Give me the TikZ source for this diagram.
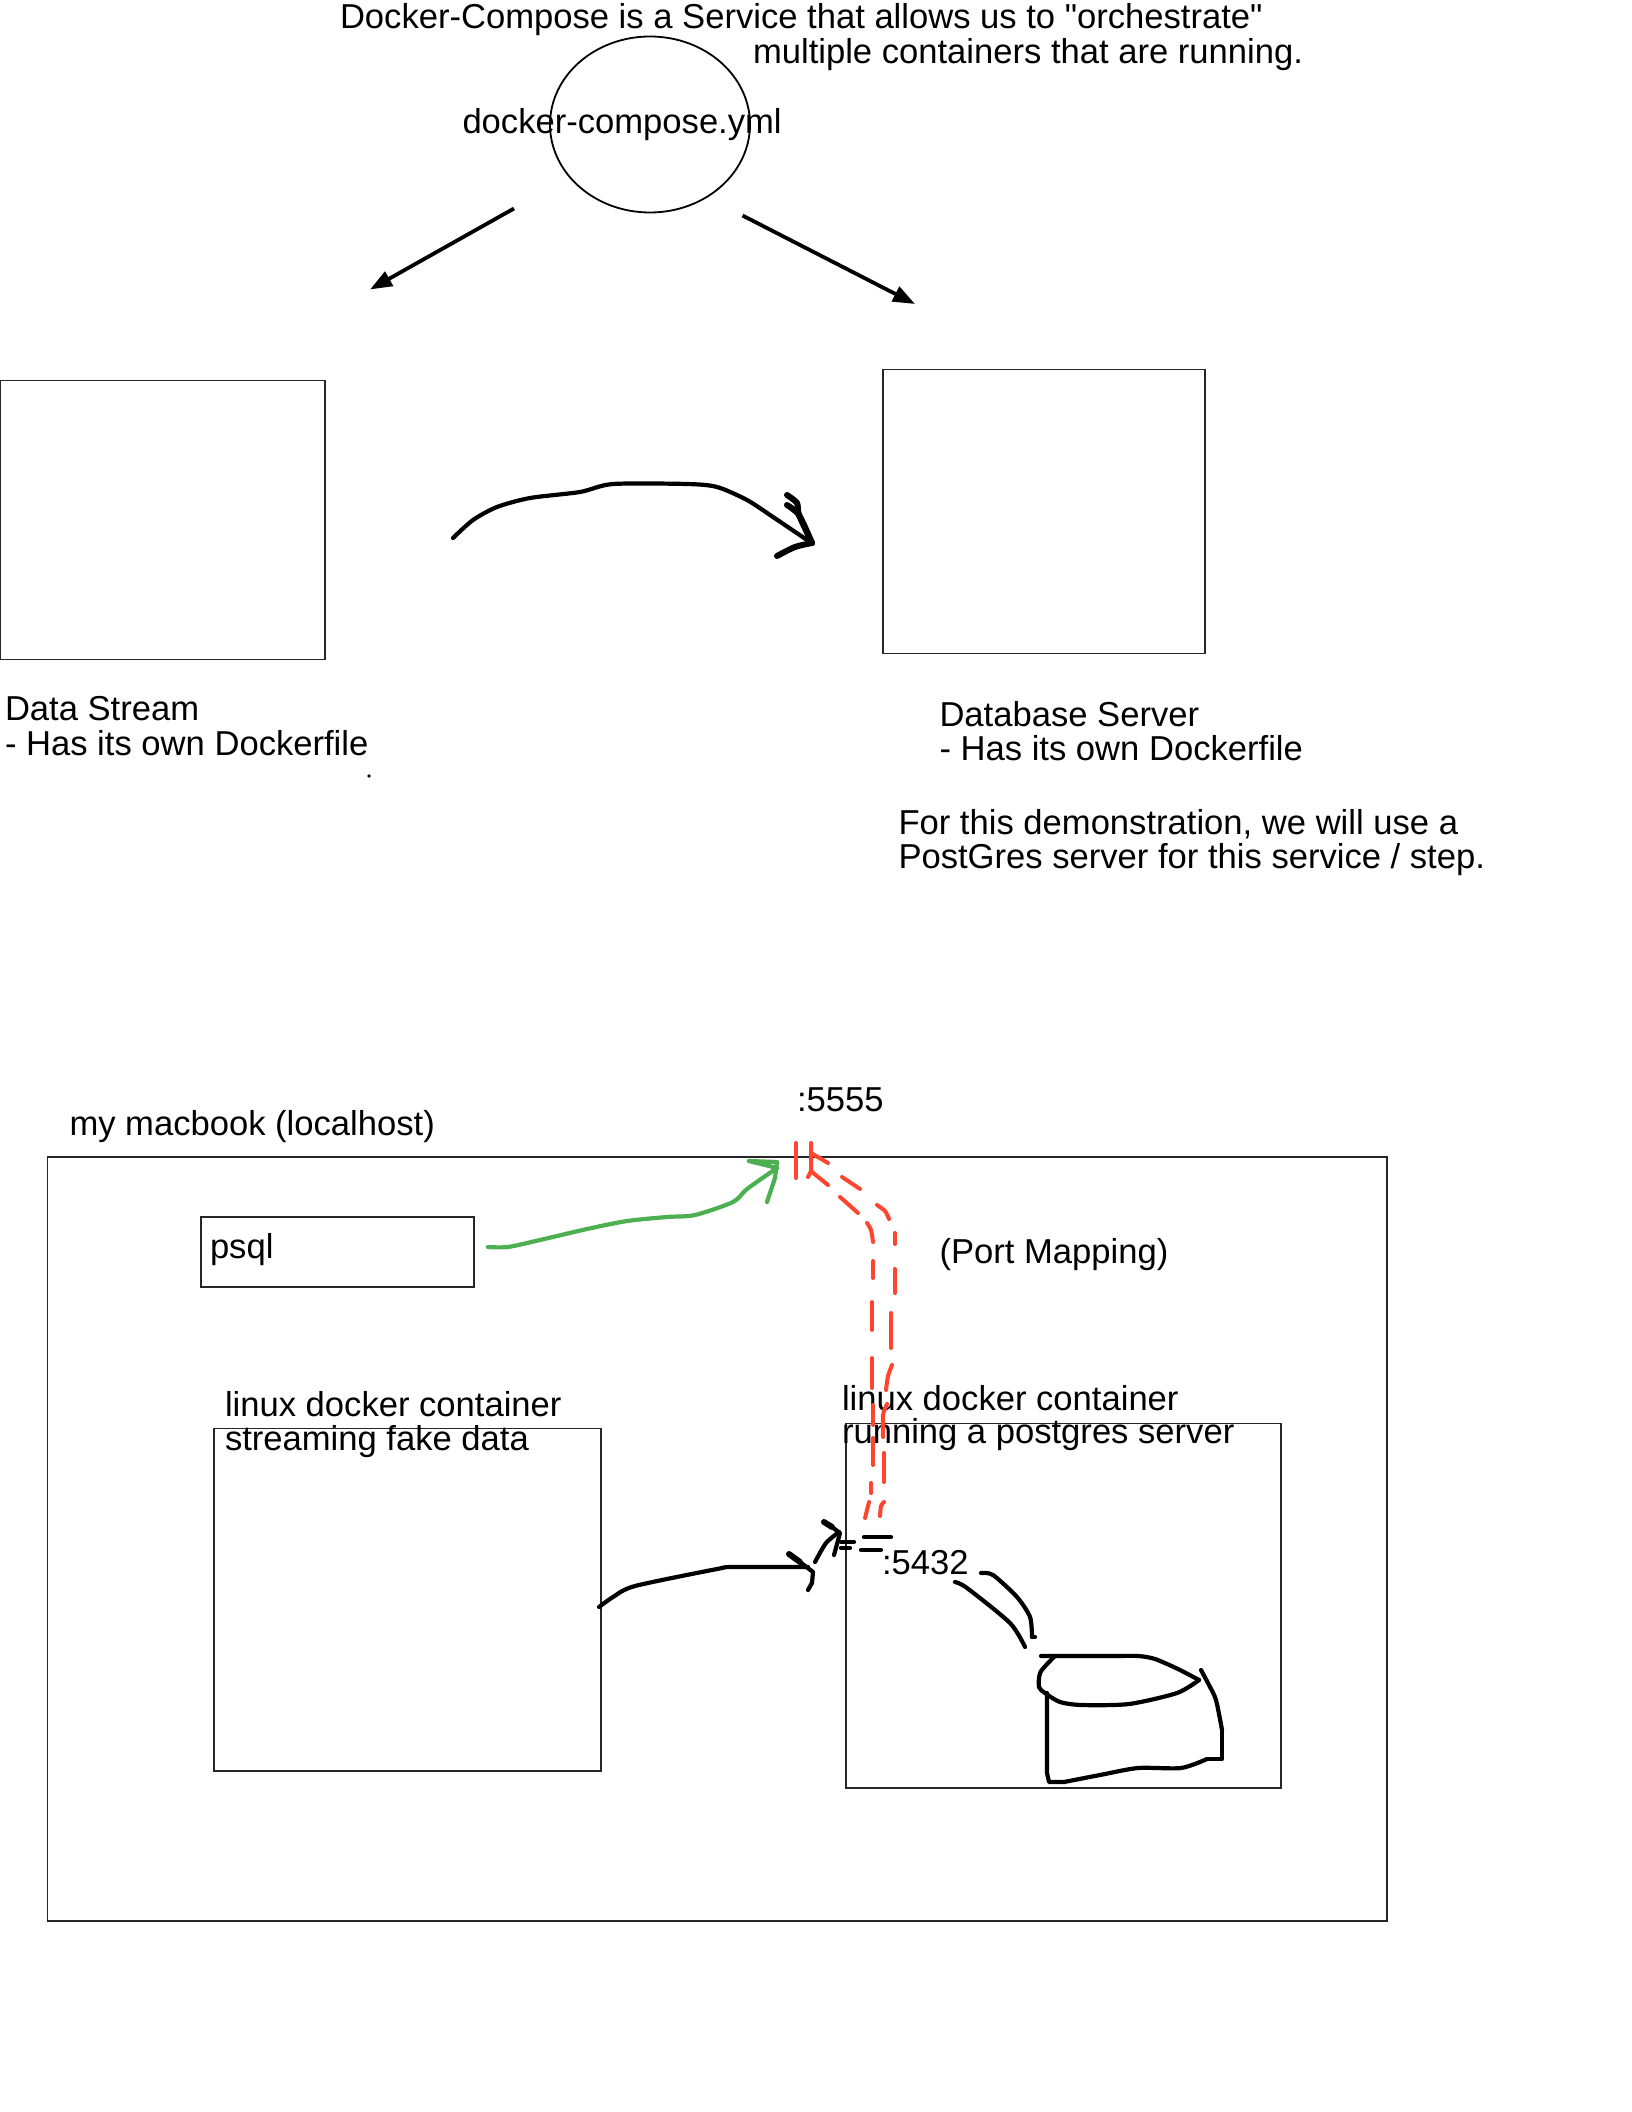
\documentclass[tikz,border=0pt]{standalone}
\usepackage{fontspec}
\newfontfamily\labfont{Liberation Sans}
\usetikzlibrary{arrows.meta,shapes.geometric}
\definecolor{penred}{RGB}{255,68,48}
\definecolor{pengreen}{RGB}{76,175,80}
\tikzset{
  every node/.style={inner sep=0pt,outer sep=0pt},
  label text/.style={anchor=base west,font=\labfont\fontsize{17.3}{19}\selectfont,text=black},
  box/.style={draw=black!85,line width=0.9pt,anchor=north west},
  pen/.style={draw=black,line width=2.1pt,line cap=round,line join=round},
  thickpen/.style={pen,line width=3pt},
  redpen/.style={draw=penred,line width=2pt,line cap=round,line join=round},
  greenpen/.style={draw=pengreen,line width=2.1pt,line cap=round,line join=round},
  arrowline/.style={draw=black,line width=1.9pt,-{Triangle[length=11pt,width=8pt]}},
  fh/.style={smooth,tension=0.45}
}
\begin{document}
\begin{tikzpicture}[x=0.5pt,y=-0.5pt]
\useasboundingbox (0,0) rectangle (1631,2112);
% top
\node[draw=black,line width=0.9pt,ellipse,minimum width=100pt,minimum height=88pt] (compose) at (650,124.5) {};
\node[label text] (t1) at (340,28.5) {Docker-Compose is a Service that allows us to "orchestrate"};
\node[label text] (t2) at (753,63.5) {multiple containers that are running.};
\node[label text] (yml) at (462.5,134) {docker-compose.yml};
\coordinate (a1s) at (514,208.5); \coordinate (a1e) at (370,289.5);
\coordinate (a2s) at (742.5,215.5); \coordinate (a2e) at (915,304);
\draw[arrowline] (a1s) -- (a1e);
\draw[arrowline] (a2s) -- (a2e);
% boxes
\draw[box] (0.5,380.5) rectangle (325,659.5);
\draw[box] (883,369.5) rectangle (1205,653.5);
\node[label text] (ds1) at (5,720) {Data Stream};
\node[label text] (ds2) at (5,755) {- Has its own Dockerfile};
\fill (369,776) circle (1.8);
\node[label text] (db1) at (939.5,726) {Database Server};
\node[label text] (db2) at (939.5,760) {- Has its own Dockerfile};
\node[label text] (db3) at (898.5,834) {For this demonstration, we will use a};
\node[label text] (db4) at (898.5,868) {PostGres server for this service / step.};
% hand arrow top
\draw[pen] plot[fh] coordinates {(453,538) (473,520) (497,507) (530,498) (580,492) (613,484) (687,484) (717,487) (747,500) (773,517) (810,542)};
\draw[thickpen] plot[fh] coordinates {(787,495) (797,503) (799,515) (812,543)};
\draw[thickpen] plot[fh] coordinates {(787,505) (799,515) (812,543)};
\draw[thickpen] plot[fh] coordinates {(812,543) (795,547) (777,556)};
% macbook
\node[label text] (mb) at (69.5,1135) {my macbook (localhost)};
\node[label text] (p5555) at (797,1111) {:5555};
\draw[box] (47.5,1157) rectangle (1387,1921);
\draw[box] (201,1217) rectangle (474,1287);
\node[label text] (psql) at (210,1258) {psql};
\node[label text] (pm) at (939.5,1263) {(Port Mapping)};
\draw[box] (214,1428.5) rectangle (601,1771);
\node[label text] (l1) at (225,1416) {linux docker container};
\node[label text] (l2) at (225,1450.5) {streaming fake data};
\draw[box] (846,1423.5) rectangle (1281,1788);
\node[label text] (r1) at (842,1410) {linux docker container};
\node[label text] (r2) at (842,1443.5) {running a postgres server};
\node[label text] (p5432) at (882,1574) {:5432};
% green arrow
\draw[greenpen] plot[fh] coordinates {(488,1247) (508,1247) (540,1240) (587,1229) (627,1221) (667,1217) (695,1215) (733,1202) (747,1189) (777,1168)};
\draw[greenpen] (749,1161) -- (777,1162) -- (775,1178) -- (767,1202);
\draw[greenpen] (749,1161) -- (777,1168);
% red port mapping
\draw[redpen] (796,1143) -- (796,1178);
\draw[redpen] (811,1143) -- (811,1171) -- (808,1177);
\draw[redpen] (811,1153) -- (828,1163);
\draw[redpen] (842,1177) -- (860,1189);
\draw[redpen] plot[fh] coordinates {(877,1205) (885,1211) (889,1219)};
\draw[redpen] (895,1233) -- (895,1244);
\draw[redpen] (895,1269) -- (895,1293);
\draw[redpen] (891,1313) -- (891,1348);
\draw[redpen] plot[fh] coordinates {(892,1365) (888,1376) (886,1390)};
\draw[redpen] plot[fh] coordinates {(887,1404) (883,1415) (883,1437)};
\draw[redpen] (884,1453) -- (884,1482);
\draw[redpen] plot[fh] coordinates {(884,1502) (881,1506) (880,1516)};
\draw[redpen] (812,1172) -- (828,1185);
\draw[redpen] (840,1197) -- (858,1213);
\draw[redpen] plot[fh] coordinates {(867,1223) (871,1230) (873,1242)};
\draw[redpen] (873,1261) -- (873,1278);
\draw[redpen] (872,1302) -- (872,1330);
\draw[redpen] (872,1358) -- (872,1388);
\draw[redpen] (873,1405) -- (873,1425);
\draw[redpen] (873,1438) -- (873,1465);
\draw[redpen] (871,1483) -- (871,1493);
\draw[redpen] (869,1502) -- (865,1518);
% black connector with hand drawn head
\draw[pen] plot[fh] coordinates {(599,1607) (613,1597) (635,1586) (717,1569) (733,1567) (808,1567)};
\draw[thickpen] (789,1554) -- (800,1562);
\draw[pen] (800,1562) -- (813,1572) -- (812,1583) -- (808,1590);
\draw[pen] plot[fh] coordinates {(815,1562) (826,1543) (839,1532)};
\draw[thickpen] (824,1522) -- (832,1527);
\draw[pen] (832,1527) -- (840,1533) -- (834,1555);
\draw[pen] (841,1542) -- (854,1542);
\draw[pen] (841,1548) -- (850,1548);
\draw[pen] (864,1537) -- (891,1537);
\draw[pen] (861,1550) -- (881,1550);
\draw[pen] plot[fh] coordinates {(955,1582) (967,1588) (1010,1623) (1025,1647)};
\draw[pen] plot[fh] coordinates {(981,1573) (993,1575) (1017,1597) (1030,1617) (1032,1637)};
\draw[pen] (1032,1637) -- (1035,1637);
% cylinder
\draw[pen] plot[fh] coordinates {(1041,1656) (1110,1656) (1138,1656) (1155,1659) (1178,1669) (1199,1680)};
\draw[pen] plot[fh] coordinates {(1199,1680) (1177,1693) (1129,1704) (1082,1705) (1060,1702) (1045,1693) (1039,1687) (1040.5,1672) (1055,1656)};
\draw[pen] (1047,1693) -- (1047,1773) -- (1049,1782) -- (1064,1782);
\draw[pen] plot[fh] coordinates {(1064,1782) (1100,1775) (1138,1768) (1181,1768) (1207,1759)};
\draw[pen] (1207,1759) -- (1222,1759) -- (1222,1730);
\draw[pen] plot[fh] coordinates {(1222,1730) (1216,1700) (1209,1685) (1201,1670)};
\end{tikzpicture}
\end{document}
